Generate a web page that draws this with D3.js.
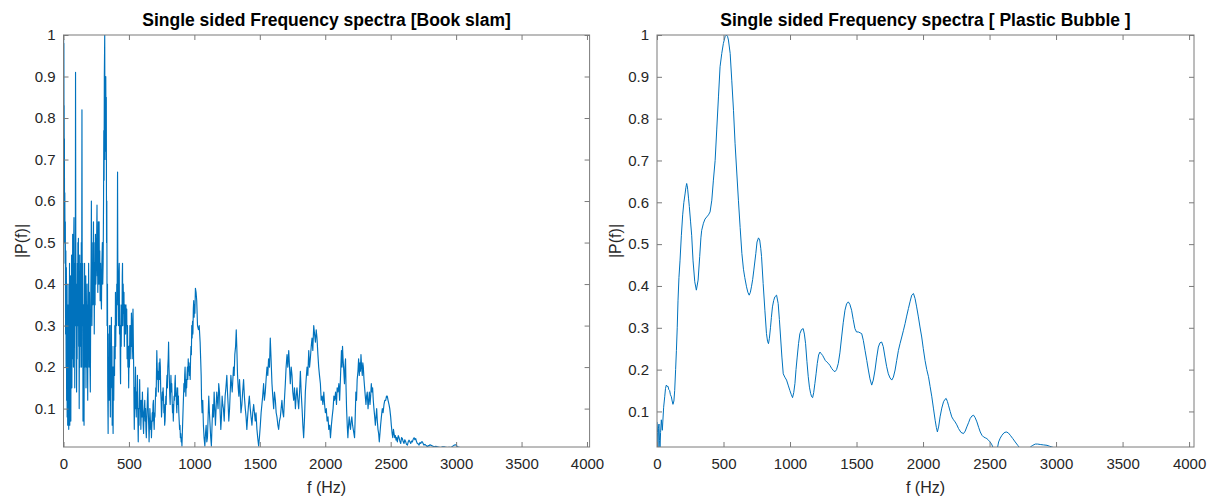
<!DOCTYPE html>
<html>
<head>
<meta charset="utf-8">
<script src="https://cdn.jsdelivr.net/npm/d3@7"></script>
<style>
  body { margin: 0; background: #fff; }
  svg text { font-family: "Liberation Sans", Arial, sans-serif; }
  .tick text { font-size: 15px; fill: #262626; }
  .tick line { stroke: #7a7a7a; }
  .title { font-size: 17.5px; font-weight: bold; fill: #000; }
  .axis-title { font-size: 16px; fill: #262626; }
</style>
</head>
<body>
<svg id="chart" width="1213" height="498"></svg>
<script>
const xTicks = [0, 500, 1000, 1500, 2000, 2500, 3000, 3500, 4000];
const yTicks = [0.1, 0.2, 0.3, 0.4, 0.5, 0.6, 0.7, 0.8, 0.9, 1];
const titles = ["Single sided Frequency spectra [Book slam]", "Single sided Frequency spectra [ Plastic Bubble ]"];
const xLabel = "f (Hz)";
const yLabel = "|P(f)|";

// [frequency (Hz), |P(f)|]
const bookSlam = [
  [0,0.97],[1,0.99],[2,0.8],[3,0.98],[4,0.7],[5,0.83],[6,0.6],[7,0.75],[8,0.5],[10,0.62],[12,0.45],[14,0.55],[16,0.28],
  [18,0.48],[20,0.2],[22,0.44],[24,0.12],[26,0.35],[28,0.08],[30,0.3],[32,0.06],[34,0.4],[36,0.15],[38,0.28],[40,0.05],
  [42,0.35],[44,0.12],[46,0.45],[48,0.06],[50,0.38],[52,0.15],[54,0.42],[56,0.07],[58,0.3],[60,0.2],[62,0.47],[64,0.15],
  [66,0.35],[68,0.22],[70,0.52],[72,0.3],[74,0.45],[76,0.2],[78,0.5],[80,0.56],[82,0.25],[84,0.4],[86,0.15],[88,0.45],
  [90,0.3],[92,0.91],[94,0.5],[96,0.3],[98,0.4],[100,0.14],[102,0.3],[104,0.22],[106,0.45],[108,0.3],[110,0.5],[112,0.4],
  [114,0.51],[116,0.25],[118,0.35],[120,0.1],[122,0.3],[124,0.47],[126,0.2],[128,0.38],[130,0.25],[132,0.45],[134,0.3],
  [136,0.5],[138,0.2],[141,0.82],[143,0.4],[145,0.3],[147,0.45],[149,0.07],[151,0.25],[153,0.15],[155,0.35],[157,0.06],
  [159,0.3],[161,0.45],[163,0.2],[166,0.4],[168,0.25],[170,0.42],[172,0.15],[175,0.35],[177,0.2],[180,0.4],[182,0.3],
  [185,0.12],[187,0.35],[190,0.3],[192,0.45],[195,0.2],[198,0.38],[201,0.25],[205,0.14],[208,0.35],[211,0.45],[213,0.6],
  [215,0.4],[217,0.3],[220,0.45],[222,0.35],[224,0.5],[226,0.4],[229,0.55],[231,0.35],[233,0.5],[235,0.28],[238,0.45],
  [241,0.35],[244,0.52],[247,0.4],[250,0.45],[253,0.5],[256,0.59],[258,0.42],[260,0.5],[262,0.38],[264,0.45],[266,0.55],
  [268,0.4],[270,0.5],[272,0.55],[275,0.4],[277,0.48],[280,0.36],[283,0.45],[286,0.38],[290,0.34],[293,0.45],[297,0.5],
  [300,0.4],[303,0.45],[306,0.6],[308,0.77],[310,0.65],[312,0.9],[315,1.0],[317,0.7],[319,0.85],[321,0.72],[323,0.9],
  [325,0.75],[327,0.85],[329,0.5],[331,0.6],[333,0.3],[336,0.4],[338,0.15],[341,0.04],[343,0.2],[345,0.12],[347,0.28],
  [349,0.2],[351,0.3],[353,0.12],[356,0.25],[358,0.08],[361,0.3],[364,0.2],[366,0.32],[368,0.15],[370,0.25],[372,0.06],
  [375,0.2],[377,0.1],[379,0.04],[381,0.2],[384,0.12],[387,0.25],[390,0.18],[392,0.3],[395,0.22],[397,0.38],[399,0.25],
  [402,0.35],[405,0.3],[407,0.4],[410,0.35],[413,0.67],[415,0.45],[418,0.42],[420,0.3],[422,0.4],[424,0.35],[426,0.45],
  [428,0.28],[431,0.35],[434,0.2],[436,0.16],[438,0.3],[441,0.25],[444,0.35],[447,0.3],[449,0.42],[451,0.45],[453,0.3],
  [456,0.4],[459,0.33],[462,0.38],[465,0.25],[468,0.35],[471,0.3],[474,0.28],[477,0.35],[480,0.3],[483,0.34],[486,0.22],
  [489,0.3],[492,0.2],[495,0.25],[498,0.15],[501,0.25],[504,0.2],[507,0.3],[510,0.22],[513,0.3],[516,0.25],[519,0.33],
  [522,0.28],[525,0.22],[528,0.3],[531,0.34],[534,0.25],[537,0.18],[539,0.1],[541,0.05],[544,0.15],[547,0.1],[550,0.2],
  [553,0.12],[556,0.08],[559,0.14],[562,0.1],[565,0.18],[568,0.08],[571,0.02],[574,0.1],[577,0.06],[580,0.13],[582,0.17],
  [585,0.1],[588,0.12],[591,0.05],[594,0.09],[597,0.12],[600,0.08],[603,0.14],[606,0.1],[609,0.06],[612,0.04],[615,0.09],
  [618,0.1],[621,0.12],[624,0.07],[627,0.1],[630,0.05],[633,0.03],[636,0.07],[639,0.1],[642,0.13],[645,0.15],[648,0.09],
  [651,0.06],[654,0.02],[657,0.06],[660,0.1],[663,0.08],[666,0.05],[669,0.07],[672,0.03],[675,0.06],[678,0.09],[681,0.07],
  [684,0.11],[687,0.12],[690,0.07],[693,0.05],[696,0.09],[699,0.08],[702,0.12],[705,0.15],[708,0.13],[711,0.2],[713,0.24],
  [716,0.2],[719,0.17],[722,0.19],[725,0.14],[728,0.18],[731,0.21],[734,0.17],[737,0.22],[740,0.2],[743,0.14],[746,0.12],
  [749,0.08],[752,0.1],[755,0.14],[758,0.12],[761,0.15],[764,0.13],[767,0.09],[770,0.11],[773,0.06],[776,0.07],[779,0.1],
  [782,0.13],[785,0.11],[788,0.16],[791,0.18],[794,0.15],[797,0.2],[800,0.22],[803,0.26],[806,0.2],[809,0.17],[812,0.13],
  [815,0.11],[818,0.15],[821,0.18],[824,0.14],[827,0.16],[830,0.12],[833,0.09],[836,0.11],[839,0.07],[842,0.1],[845,0.13],
  [848,0.12],[851,0.16],[854,0.18],[857,0.13],[860,0.15],[863,0.11],[866,0.09],[869,0.13],[872,0.15],[875,0.11],[878,0.13],
  [881,0.09],[884,0.07],[887,0.05],[890,0.06],[893,0.03],[896,0.04],[899,0.02],[902,0.03],[905,0.01],[908,0.04],[911,0.07],
  [914,0.1],[917,0.13],[920,0.16],[923,0.14],[926,0.18],[929,0.2],[932,0.16],[935,0.13],[938,0.17],[941,0.15],[944,0.18],
  [947,0.2],[950,0.17],[953,0.22],[956,0.19],[959,0.21],[962,0.18],[965,0.2],[968,0.17],[971,0.22],[974,0.25],[977,0.23],
  [980,0.3],[983,0.27],[986,0.31],[989,0.28],[992,0.34],[995,0.36],[998,0.32],[1001,0.35],[1004,0.33],[1008,0.39],
  [1013,0.38],[1018,0.36],[1024,0.3],[1031,0.29],[1037,0.3],[1044,0.26],[1048,0.22],[1052,0.18],[1055,0.12],[1059,0.09],
  [1064,0.12],[1069,0.06],[1074,0.03],[1080,0.01],[1085,0.04],[1090,0.06],[1095,0.02],[1100,0.03],[1105,0.08],[1110,0.13],
  [1115,0.09],[1120,0.06],[1125,0.03],[1130,0.01],[1135,0.06],[1141,0.11],[1146,0.08],[1151,0.14],[1156,0.1],[1161,0.06],
  [1166,0.1],[1171,0.14],[1176,0.12],[1181,0.1],[1186,0.16],[1192,0.14],[1197,0.09],[1202,0.05],[1207,0.08],[1212,0.13],
  [1217,0.11],[1222,0.1],[1228,0.07],[1235,0.13],[1241,0.15],[1248,0.18],[1253,0.14],[1258,0.11],[1263,0.07],[1269,0.1],
  [1274,0.14],[1279,0.18],[1284,0.16],[1289,0.14],[1294,0.17],[1299,0.2],[1304,0.18],[1309,0.23],[1315,0.25],[1320,0.29],
  [1325,0.24],[1330,0.18],[1335,0.15],[1340,0.13],[1345,0.17],[1350,0.14],[1356,0.09],[1363,0.11],[1369,0.14],[1376,0.17],
  [1382,0.13],[1389,0.1],[1395,0.08],[1401,0.05],[1407,0.08],[1414,0.11],[1420,0.13],[1427,0.1],[1433,0.08],[1440,0.06],
  [1446,0.09],[1453,0.11],[1459,0.09],[1465,0.07],[1471,0.09],[1478,0.05],[1484,0.03],[1491,0.01],[1497,0.03],[1504,0.06],
  [1510,0.09],[1516,0.11],[1522,0.13],[1529,0.16],[1535,0.12],[1542,0.14],[1548,0.17],[1555,0.2],[1561,0.18],[1567,0.22],
  [1574,0.2],[1580,0.27],[1586,0.22],[1593,0.16],[1599,0.13],[1606,0.1],[1612,0.14],[1619,0.12],[1625,0.09],[1631,0.08],
  [1638,0.06],[1644,0.05],[1650,0.07],[1657,0.08],[1663,0.1],[1669,0.12],[1676,0.09],[1682,0.08],[1688,0.12],[1695,0.16],
  [1701,0.2],[1708,0.23],[1714,0.2],[1721,0.24],[1727,0.2],[1733,0.16],[1740,0.2],[1746,0.18],[1752,0.14],[1759,0.12],
  [1765,0.15],[1772,0.1],[1778,0.13],[1784,0.15],[1791,0.12],[1797,0.1],[1804,0.14],[1810,0.19],[1816,0.14],[1823,0.1],
  [1829,0.06],[1835,0.03],[1842,0.08],[1848,0.14],[1854,0.17],[1861,0.2],[1867,0.18],[1874,0.24],[1880,0.2],[1886,0.22],
  [1893,0.25],[1899,0.27],[1905,0.24],[1912,0.3],[1918,0.28],[1925,0.26],[1931,0.29],[1937,0.27],[1944,0.23],[1950,0.2],
  [1956,0.18],[1963,0.16],[1969,0.12],[1976,0.13],[1982,0.11],[1989,0.14],[1995,0.11],[2001,0.09],[2008,0.1],[2014,0.07],
  [2021,0.08],[2027,0.05],[2034,0.06],[2040,0.03],[2047,0.06],[2053,0.08],[2060,0.1],[2066,0.13],[2072,0.12],[2079,0.14],
  [2086,0.11],[2091,0.15],[2097,0.14],[2104,0.16],[2110,0.12],[2117,0.18],[2124,0.24],[2128,0.2],[2132,0.25],[2136,0.22],
  [2140,0.2],[2147,0.16],[2151,0.2],[2155,0.22],[2159,0.15],[2163,0.1],[2168,0.06],[2173,0.03],[2178,0.06],[2183,0.08],
  [2188,0.06],[2193,0.05],[2198,0.07],[2203,0.08],[2209,0.06],[2214,0.05],[2219,0.04],[2224,0.03],[2229,0.08],[2234,0.14],
  [2239,0.12],[2244,0.17],[2250,0.19],[2255,0.22],[2260,0.18],[2265,0.21],[2269,0.19],[2273,0.23],[2278,0.2],[2283,0.18],
  [2287,0.21],[2291,0.2],[2296,0.17],[2301,0.15],[2306,0.13],[2311,0.11],[2316,0.13],[2321,0.14],[2327,0.1],[2332,0.12],
  [2337,0.14],[2342,0.11],[2347,0.13],[2352,0.16],[2357,0.14],[2362,0.15],[2367,0.12],[2372,0.1],[2378,0.08],[2383,0.06],
  [2388,0.08],[2393,0.1],[2398,0.07],[2403,0.05],[2408,0.04],[2413,0.02],[2418,0.04],[2423,0.06],[2429,0.08],[2436,0.1],
  [2442,0.09],[2449,0.11],[2455,0.12],[2462,0.12],[2468,0.13],[2474,0.13],[2480,0.12],[2487,0.11],[2493,0.1],[2500,0.08],
  [2505,0.06],[2511,0.04],[2516,0.03],[2521,0.05],[2526,0.04],[2531,0.03],[2536,0.035],[2541,0.024],[2546,0.03],[2551,0.02],
  [2558,0.035],[2564,0.03],[2570,0.022],[2577,0.016],[2583,0.03],[2589,0.028],[2596,0.02],[2602,0.016],[2608,0.025],
  [2615,0.02],[2621,0.014],[2628,0.012],[2634,0.02],[2640,0.024],[2647,0.02],[2653,0.016],[2660,0.022],[2666,0.02],
  [2672,0.026],[2679,0.03],[2685,0.025],[2691,0.028],[2698,0.02],[2704,0.016],[2711,0.015],[2717,0.012],[2723,0.018],
  [2730,0.016],[2736,0.02],[2742,0.02],[2749,0.015],[2755,0.012],[2762,0.014],[2768,0.012],[2775,0.01],[2781,0.008],
  [2787,0.011],[2793,0.01],[2800,0.013],[2806,0.012],[2819,0.01],[2832,0.008],[2845,0.009],[2857,0.008],[2870,0.007],
  [2883,0.006],[2896,0.008],[2908,0.008],[2921,0.007],[2934,0.006],[2947,0.007],[2959,0.006],[2972,0.009],[2985,0.012],
  [2998,0.013],[3010,0.008],[3023,0.007],[3036,0.005],[3061,0.004],[3112,0.003],[3163,0.002],[3200,0.001],[4000,0.0005]
];

// [frequency (Hz), |P(f)|]
const plasticBubble = [
  [0,0.075],[4,0.05],[7.5,0.015],[11,0.06],[15,0.07],[19,0.03],[22.6,0.011],[27,0.05],[32.6,0.08],[40,0.055],[50,0.11],
  [58,0.135],[64,0.155],[70,0.163],[76,0.16],[83,0.16],[89,0.152],[95,0.15],[101,0.14],[108,0.135],[114,0.125],[120,0.117],
  [127,0.125],[133,0.15],[140,0.2],[146,0.246],[152,0.3],[158,0.366],[165,0.42],[173,0.46],[183,0.52],[193,0.57],[202,0.6],
  [211,0.62],[217,0.635],[223,0.645],[227,0.64],[231,0.63],[237,0.61],[243,0.59],[252,0.555],[261,0.52],[271,0.46],
  [284,0.41],[296,0.39],[309,0.414],[321,0.47],[330,0.515],[336,0.533],[349,0.55],[361,0.56],[374,0.565],[387,0.57],
  [399,0.577],[412,0.605],[424,0.653],[437,0.7],[449,0.773],[462,0.852],[474,0.924],[487,0.956],[499,0.98],[512,0.996],
  [522,1.0],[530,0.997],[537,0.988],[550,0.956],[562,0.892],[575,0.82],[587,0.74],[600,0.67],[612,0.605],[625,0.54],
  [638,0.478],[650,0.44],[660,0.42],[673,0.398],[683,0.385],[693,0.378],[702,0.385],[710,0.398],[719,0.415],[728,0.438],
  [743,0.478],[752,0.505],[763,0.515],[772,0.51],[780,0.49],[786,0.47],[798,0.406],[811,0.342],[823,0.286],[831,0.268],
  [838,0.262],[845,0.275],[853,0.3],[860,0.325],[868,0.35],[877,0.365],[886,0.374],[899,0.378],[911,0.358],[920,0.32],
  [929,0.278],[939,0.23],[949,0.19],[961,0.182],[974,0.175],[986,0.163],[999,0.15],[1010,0.14],[1019,0.133],[1028,0.145],
  [1037,0.167],[1045,0.2],[1054,0.23],[1064,0.262],[1074,0.286],[1087,0.296],[1099,0.298],[1108,0.285],[1117,0.262],
  [1127,0.22],[1137,0.183],[1146,0.158],[1155,0.143],[1163,0.135],[1170,0.133],[1178,0.145],[1187,0.167],[1196,0.19],
  [1205,0.215],[1215,0.235],[1225,0.242],[1235,0.238],[1245,0.234],[1255,0.228],[1265,0.222],[1277,0.218],[1288,0.215],
  [1300,0.21],[1313,0.203],[1325,0.198],[1338,0.195],[1350,0.2],[1363,0.215],[1375,0.24],[1388,0.278],[1400,0.312],
  [1413,0.342],[1425,0.357],[1438,0.362],[1450,0.356],[1463,0.342],[1475,0.32],[1488,0.298],[1500,0.29],[1514,0.29],
  [1527,0.288],[1539,0.286],[1551,0.27],[1564,0.246],[1577,0.222],[1589,0.199],[1601,0.178],[1614,0.163],[1626,0.175],
  [1639,0.199],[1651,0.228],[1664,0.254],[1676,0.264],[1689,0.266],[1701,0.255],[1714,0.23],[1726,0.208],[1739,0.19],
  [1752,0.18],[1765,0.175],[1777,0.182],[1790,0.199],[1802,0.222],[1815,0.246],[1827,0.262],[1840,0.278],[1852,0.293],
  [1865,0.31],[1877,0.328],[1890,0.346],[1902,0.362],[1915,0.378],[1928,0.382],[1940,0.37],[1952,0.35],[1965,0.326],
  [1977,0.302],[1990,0.278],[2002,0.25],[2015,0.222],[2028,0.2],[2041,0.183],[2053,0.16],[2066,0.135],[2078,0.108],
  [2091,0.079],[2100,0.062],[2108,0.051],[2118,0.065],[2128,0.087],[2141,0.108],[2154,0.123],[2165,0.129],[2174,0.131],
  [2183,0.124],[2191,0.115],[2204,0.1],[2216,0.087],[2229,0.08],[2241,0.075],[2254,0.068],[2267,0.059],[2285,0.05],
  [2304,0.047],[2317,0.053],[2329,0.063],[2342,0.073],[2354,0.083],[2367,0.089],[2380,0.091],[2392,0.085],[2405,0.075],
  [2418,0.062],[2430,0.051],[2443,0.043],[2455,0.039],[2468,0.037],[2480,0.035],[2493,0.031],[2505,0.027],[2518,0.02],
  [2530,0.011],[2540,0.006],[2550,0.004],[2559,0.012],[2568,0.027],[2580,0.036],[2593,0.043],[2609,0.049],[2625,0.051],
  [2640,0.049],[2656,0.043],[2675,0.035],[2693,0.027],[2712,0.019],[2731,0.011],[2750,0.006],[2769,0.005],[2788,0.009],
  [2806,0.015],[2825,0.019],[2844,0.022],[2862,0.022],[2881,0.021],[2906,0.02],[2932,0.019],[2950,0.017],[2969,0.015],
  [2988,0.013],[3007,0.01],[3030,0.006],[3100,0.003],[3500,0.001],[4000,0.0005]
];

const panels = [
  {id: "book", title: titles[0], data: bookSlam, xRange: [63.5, 589.6], xMax: 4020, yMin: 0.0075, yLabelX: 21, lineWidth: 1.15},
  {id: "bubble", title: titles[1], data: plasticBubble, xRange: [657, 1194], xMax: 4037, yMin: 0.015, yLabelX: 615, lineWidth: 1}
];
const plotTop = 35, plotBottom = 447;
const tickLen = 5;

const svg = d3.select("#chart");

panels.forEach(p => {
  const x = d3.scaleLinear().domain([0, p.xMax]).range(p.xRange);
  const y = d3.scaleLinear().domain([p.yMin, 1]).range([plotBottom, plotTop]);
  const g = svg.append("g").attr("class", "panel").attr("id", p.id);

  g.append("clipPath").attr("id", `clip-${p.id}`)
    .append("rect")
    .attr("x", p.xRange[0]).attr("y", plotTop)
    .attr("width", p.xRange[1] - p.xRange[0]).attr("height", plotBottom - plotTop);

  g.append("path")
    .datum(p.data)
    .attr("clip-path", `url(#clip-${p.id})`)
    .attr("fill", "none")
    .attr("stroke", "#0072BD")
    .attr("stroke-width", p.lineWidth)
    .attr("stroke-linejoin", "round")
    .attr("d", d3.line().x(d => x(d[0])).y(d => y(d[1])));

  // axes, ticks pointing inward on all four sides
  g.append("g").attr("class", "axis x")
    .attr("transform", `translate(0,${plotBottom})`)
    .call(d3.axisBottom(x).tickValues(xTicks).tickSize(-tickLen).tickPadding(11).tickFormat(d => String(d)));
  g.append("g").attr("class", "axis x2")
    .attr("transform", `translate(0,${plotTop})`)
    .call(d3.axisTop(x).tickValues(xTicks).tickSize(-tickLen).tickFormat(""));
  g.append("g").attr("class", "axis y")
    .attr("transform", `translate(${p.xRange[0]},0)`)
    .call(d3.axisLeft(y).tickValues(yTicks).tickSize(-tickLen).tickPadding(8).tickFormat(d => String(d)));
  g.append("g").attr("class", "axis y2")
    .attr("transform", `translate(${p.xRange[1]},0)`)
    .call(d3.axisRight(y).tickValues(yTicks).tickSize(-tickLen).tickFormat(""));
  g.selectAll(".domain").remove();

  g.append("rect")
    .attr("x", p.xRange[0]).attr("y", plotTop)
    .attr("width", p.xRange[1] - p.xRange[0]).attr("height", plotBottom - plotTop)
    .attr("fill", "none").attr("stroke", "#7a7a7a").attr("stroke-width", 1);

  const cx = (p.xRange[0] + p.xRange[1]) / 2;
  g.append("text").attr("class", "title")
    .attr("x", cx).attr("y", 26).attr("text-anchor", "middle")
    .text(p.title);
  g.append("text").attr("class", "axis-title")
    .attr("x", cx).attr("y", 493).attr("text-anchor", "middle")
    .text(xLabel);
  g.append("text").attr("class", "axis-title")
    .attr("transform", `translate(${p.yLabelX},${(plotTop + plotBottom) / 2})rotate(-90)`)
    .attr("dy", "0.35em").attr("text-anchor", "middle")
    .text(yLabel);
});
</script>
</body>
</html>
